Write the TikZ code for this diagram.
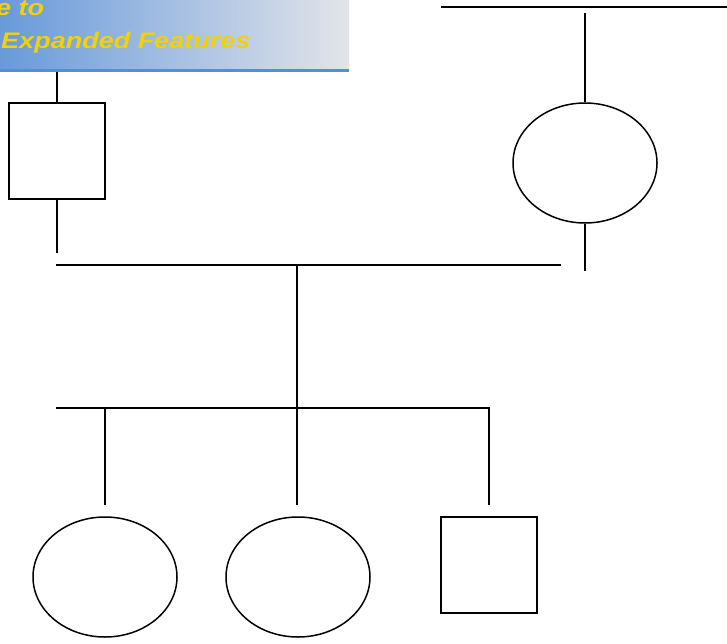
\documentclass[tikz,border=0pt]{standalone}
\usepackage{fontspec}
\setmainfont{Liberation Sans}
\usetikzlibrary{shapes.geometric}
\definecolor{bannerL}{RGB}{104,154,218}
\definecolor{bannerR}{RGB}{226,228,234}
\definecolor{bannerLine}{RGB}{88,140,212}
\definecolor{titleYellow}{RGB}{242,208,10}
\tikzset{
  ln/.style={line width=1.8pt, black},
  male/.style={draw, line width=1.6pt, rectangle, minimum width=96pt, minimum height=96pt, inner sep=0pt},
  female/.style={draw, line width=1.5pt, ellipse, minimum width=144pt, minimum height=120pt, inner sep=0pt},
  title/.style={text=titleYellow, font=\fontsize{22.5}{22.5}\selectfont\bfseries\itshape, anchor=base west, inner sep=0pt, xscale=1.2}
}
\begin{document}
\begin{tikzpicture}[x=1pt,y=-1pt]
\useasboundingbox (0,0) rectangle (727,644);
% banner
\begin{scope}
\clip (0,0) rectangle (349,72);
\shade[left color=bannerL, right color=bannerR] (0,-2) rectangle (349,69);
\fill[bannerLine] (0,69) rectangle (349,72);
\node[title] (t1) at (-4,16) {e to};
\node[title] (t2) at (1,49) {Expanded Features};
\end{scope}
% nodes
\node[male] (m1) at (57,151) {};
\node[female] (f1) at (585,163) {};
\node[female] (c1) at (105,577) {};
\node[female] (c2) at (298,577) {};
\node[male] (c3) at (489,565) {};
% coordinates
\coordinate (m1top) at (57,72);
\coordinate (m1bot) at (57,253);
\coordinate (f1top) at (585,13);
\coordinate (f1bot) at (585,271);
\coordinate (topL) at (441,7);
\coordinate (topR) at (727,7);
\coordinate (mL) at (56,265);
\coordinate (mR) at (561,265);
\coordinate (mC) at (297,265);
\coordinate (sC) at (297,408);
\coordinate (sL) at (56,408);
\coordinate (sR) at (489,408);
\coordinate (s1) at (105,408);
\coordinate (e1) at (105,505);
\coordinate (e2) at (297,505);
\coordinate (e3) at (489,505);
% connectors
\draw[ln] (m1top) -- (m1.north);
\draw[ln] (m1.south) -- (m1bot);
\draw[ln] (topL) -- (topR);
\draw[ln] (f1top) -- (f1.north);
\draw[ln] (f1.south) -- (f1bot);
\draw[ln] (mL) -- (mR);
\draw[ln] (mC) -- (sC);
\draw[ln] (sL) -- (sR) -- (e3);
\draw[ln] (s1) -- (e1);
\draw[ln] (sC) -- (e2);
\end{tikzpicture}
\end{document}
